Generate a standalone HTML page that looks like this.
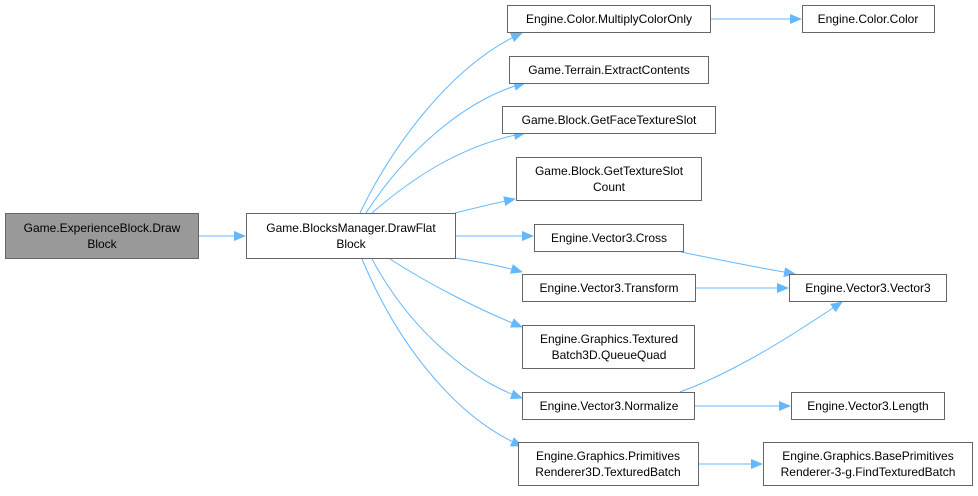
<!DOCTYPE html>
<html><head><style>html,body{margin:0;padding:0;background:#fff}</style></head><body>
<svg width="978" height="491" viewBox="0 0 978 491" xmlns="http://www.w3.org/2000/svg" font-family="Liberation Sans, Arial, sans-serif" font-size="12">
<defs><marker id="a" markerWidth="12" markerHeight="10" refX="11" refY="5" orient="auto" markerUnits="userSpaceOnUse"><path d="M0,0 L12,5 L0,10 z" fill="#63b8ff"/></marker></defs>
<g fill="none" stroke="#63b8ff" stroke-width="1" marker-end="url(#a)">
<path d="M198,236 L245,236"/>
<path d="M360,213 C390,150 450,65 522,33"/>
<path d="M366,213 C400,160 460,100 525,83"/>
<path d="M372,213 C410,180 460,145 525,133"/>
<path d="M455,213 C475,208 495,203 515,199"/>
<path d="M455,236 L533,236"/>
<path d="M455,258 C480,262 505,267 522,272"/>
<path d="M390,259 C430,285 480,310 522,327"/>
<path d="M372,259 C410,330 470,380 522,398"/>
<path d="M362,259 C400,350 460,420 522,446"/>
<path d="M710,19 L801,19"/>
<path d="M681,252 C720,260 760,268 795,274"/>
<path d="M695,288 L788,288"/>
<path d="M680,392 C740,370 800,330 842,302"/>
<path d="M695,406 L790,406"/>
<path d="M698,464 L762,464"/>
</g>
<g stroke="#666" stroke-width="1">
<rect x="5.5" y="213.5" width="193" height="45" fill="#999"/>
<rect x="246.5" y="213.5" width="209" height="45" fill="#fff"/>
<rect x="507.5" y="5.5" width="203" height="27" fill="#fff"/>
<rect x="802.5" y="5.5" width="132" height="27" fill="#fff"/>
<rect x="509.5" y="56.5" width="199" height="27" fill="#fff"/>
<rect x="502.5" y="106.5" width="213" height="27" fill="#fff"/>
<rect x="516.5" y="157.5" width="185" height="43" fill="#fff"/>
<rect x="534.5" y="224.5" width="149" height="27" fill="#fff"/>
<rect x="522.5" y="274.5" width="173" height="27" fill="#fff"/>
<rect x="789.5" y="274.5" width="157" height="27" fill="#fff"/>
<rect x="522.5" y="325.5" width="172" height="43" fill="#fff"/>
<rect x="522.5" y="392.5" width="172" height="27" fill="#fff"/>
<rect x="791.5" y="392.5" width="153" height="27" fill="#fff"/>
<rect x="518.5" y="442.5" width="180" height="43" fill="#fff"/>
<rect x="763.5" y="442.5" width="209" height="43" fill="#fff"/>
</g>
<g fill="#000" text-anchor="middle">
<text x="102" y="232">Game.ExperienceBlock.Draw</text><text x="102" y="248">Block</text>
<text x="351" y="232">Game.BlocksManager.DrawFlat</text><text x="351" y="248">Block</text>
<text x="609" y="23">Engine.Color.MultiplyColorOnly</text>
<text x="868" y="23">Engine.Color.Color</text>
<text x="609" y="74">Game.Terrain.ExtractContents</text>
<text x="609" y="124">Game.Block.GetFaceTextureSlot</text>
<text x="609" y="175">Game.Block.GetTextureSlot</text><text x="609" y="191">Count</text>
<text x="609" y="242">Engine.Vector3.Cross</text>
<text x="609" y="292">Engine.Vector3.Transform</text>
<text x="868" y="292">Engine.Vector3.Vector3</text>
<text x="609" y="343">Engine.Graphics.Textured</text><text x="609" y="359">Batch3D.QueueQuad</text>
<text x="609" y="410">Engine.Vector3.Normalize</text>
<text x="868" y="410">Engine.Vector3.Length</text>
<text x="608" y="460">Engine.Graphics.Primitives</text><text x="608" y="476">Renderer3D.TexturedBatch</text>
<text x="868" y="460">Engine.Graphics.BasePrimitives</text><text x="868" y="476">Renderer-3-g.FindTexturedBatch</text>
</g>
</svg>
</body></html>
